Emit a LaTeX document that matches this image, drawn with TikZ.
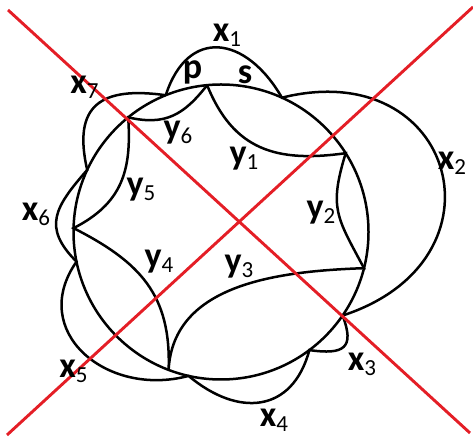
\documentclass[tikz,border=0pt]{standalone}
\usepackage{fontspec}
\setmainfont{Carlito}
\usetikzlibrary{calc}
\definecolor{rojo}{RGB}{228,30,38}
\newcommand{\vlab}[2]{\textbf{#1}\raisebox{-5pt}{\fontsize{23}{23}\selectfont #2}}
\tikzset{
  curva/.style={line width=2.5pt,black},
  cruz/.style={line width=2.9pt,rojo},
  etiq/.style={inner sep=0pt,font=\fontsize{36}{38}\selectfont}
}
\begin{document}
\begin{tikzpicture}[x=1pt,y=1pt]
\useasboundingbox (0,0) rectangle (473,438);
\coordinate (C) at (221,206);
\def\R{147.5}
% puntos sobre el circulo
\foreach \n/\a in {P1/95.4,P2/32.3,P3/-14.2,P5/-110.8,P6/178.5,P7/129,
                   A1/112,A2/65.6,A3/-34.5,A4/-53.2,A5/-102.7,A6/191.6,A7/155.1}
  \coordinate (\n) at ($(C)+(\a:\R)$);
\draw[curva] (C) circle[radius=\R];
% arcos exteriores x1..x7
\draw[curva] (A1) to[out=72,in=120,distance=72pt] (A2)
  to[out=14,in=18,distance=179pt] (A3)
  to[out=-69,in=-8,distance=35pt] (A4)
  to[out=-105,in=-40,distance=65pt] (A5)
  to[out=195,in=235,distance=85pt] (A6)
  to[out=135,in=229,distance=49pt] (A7)
  to[out=103,in=172,distance=66pt] (A1);
% arcos interiores y1..y6
\draw[curva] (P1) to[out=-68,in=188,distance=70pt] (P2)
  to[out=-107,in=118,distance=58pt] (P3)
  to[out=182,in=87,distance=86pt] (P5)
  to[out=88,in=-27,distance=75pt] (P6)
  to[out=27,in=-86,distance=54pt] (P7)
  to[out=-13,in=232,distance=38pt] (P1);
% cruz roja
\coordinate (L1a) at (8,428);
\coordinate (L1b) at (470,5);
\coordinate (L2a) at (473,431);
\coordinate (L2b) at (7,3);
\draw[cruz] (L1a) -- (L1b);
\draw[cruz] (L2a) -- (L2b);
% etiquetas
\node[etiq] (lx1) at (227,403) {\vlab{x}{1}};
\node[etiq] (lx2) at (452,275) {\vlab{x}{2}};
\node[etiq] (lx3) at (362,74) {\vlab{x}{3}};
\node[etiq] (lx4) at (274,18) {\vlab{x}{4}};
\node[etiq] (lx5) at (73.5,67) {\vlab{x}{5}};
\node[etiq] (lx6) at (36,224) {\vlab{x}{6}};
\node[etiq] (lx7) at (84.5,351) {\vlab{x}{7}};
\node[etiq] (ly1) at (244,279) {\vlab{y}{1}};
\node[etiq] (ly2) at (321,225) {\vlab{y}{2}};
\node[etiq] (ly3) at (239,171.5) {\vlab{y}{3}};
\node[etiq] (ly4) at (159,176) {\vlab{y}{4}};
\node[etiq] (ly5) at (141,248) {\vlab{y}{5}};
\node[etiq] (ly6) at (178,305.5) {\vlab{y}{6}};
\node[etiq] (lp) at (192.5,366) {\textbf{p}};
\node[etiq] (ls) at (245,363) {\textbf{s}};
\end{tikzpicture}
\end{document}
